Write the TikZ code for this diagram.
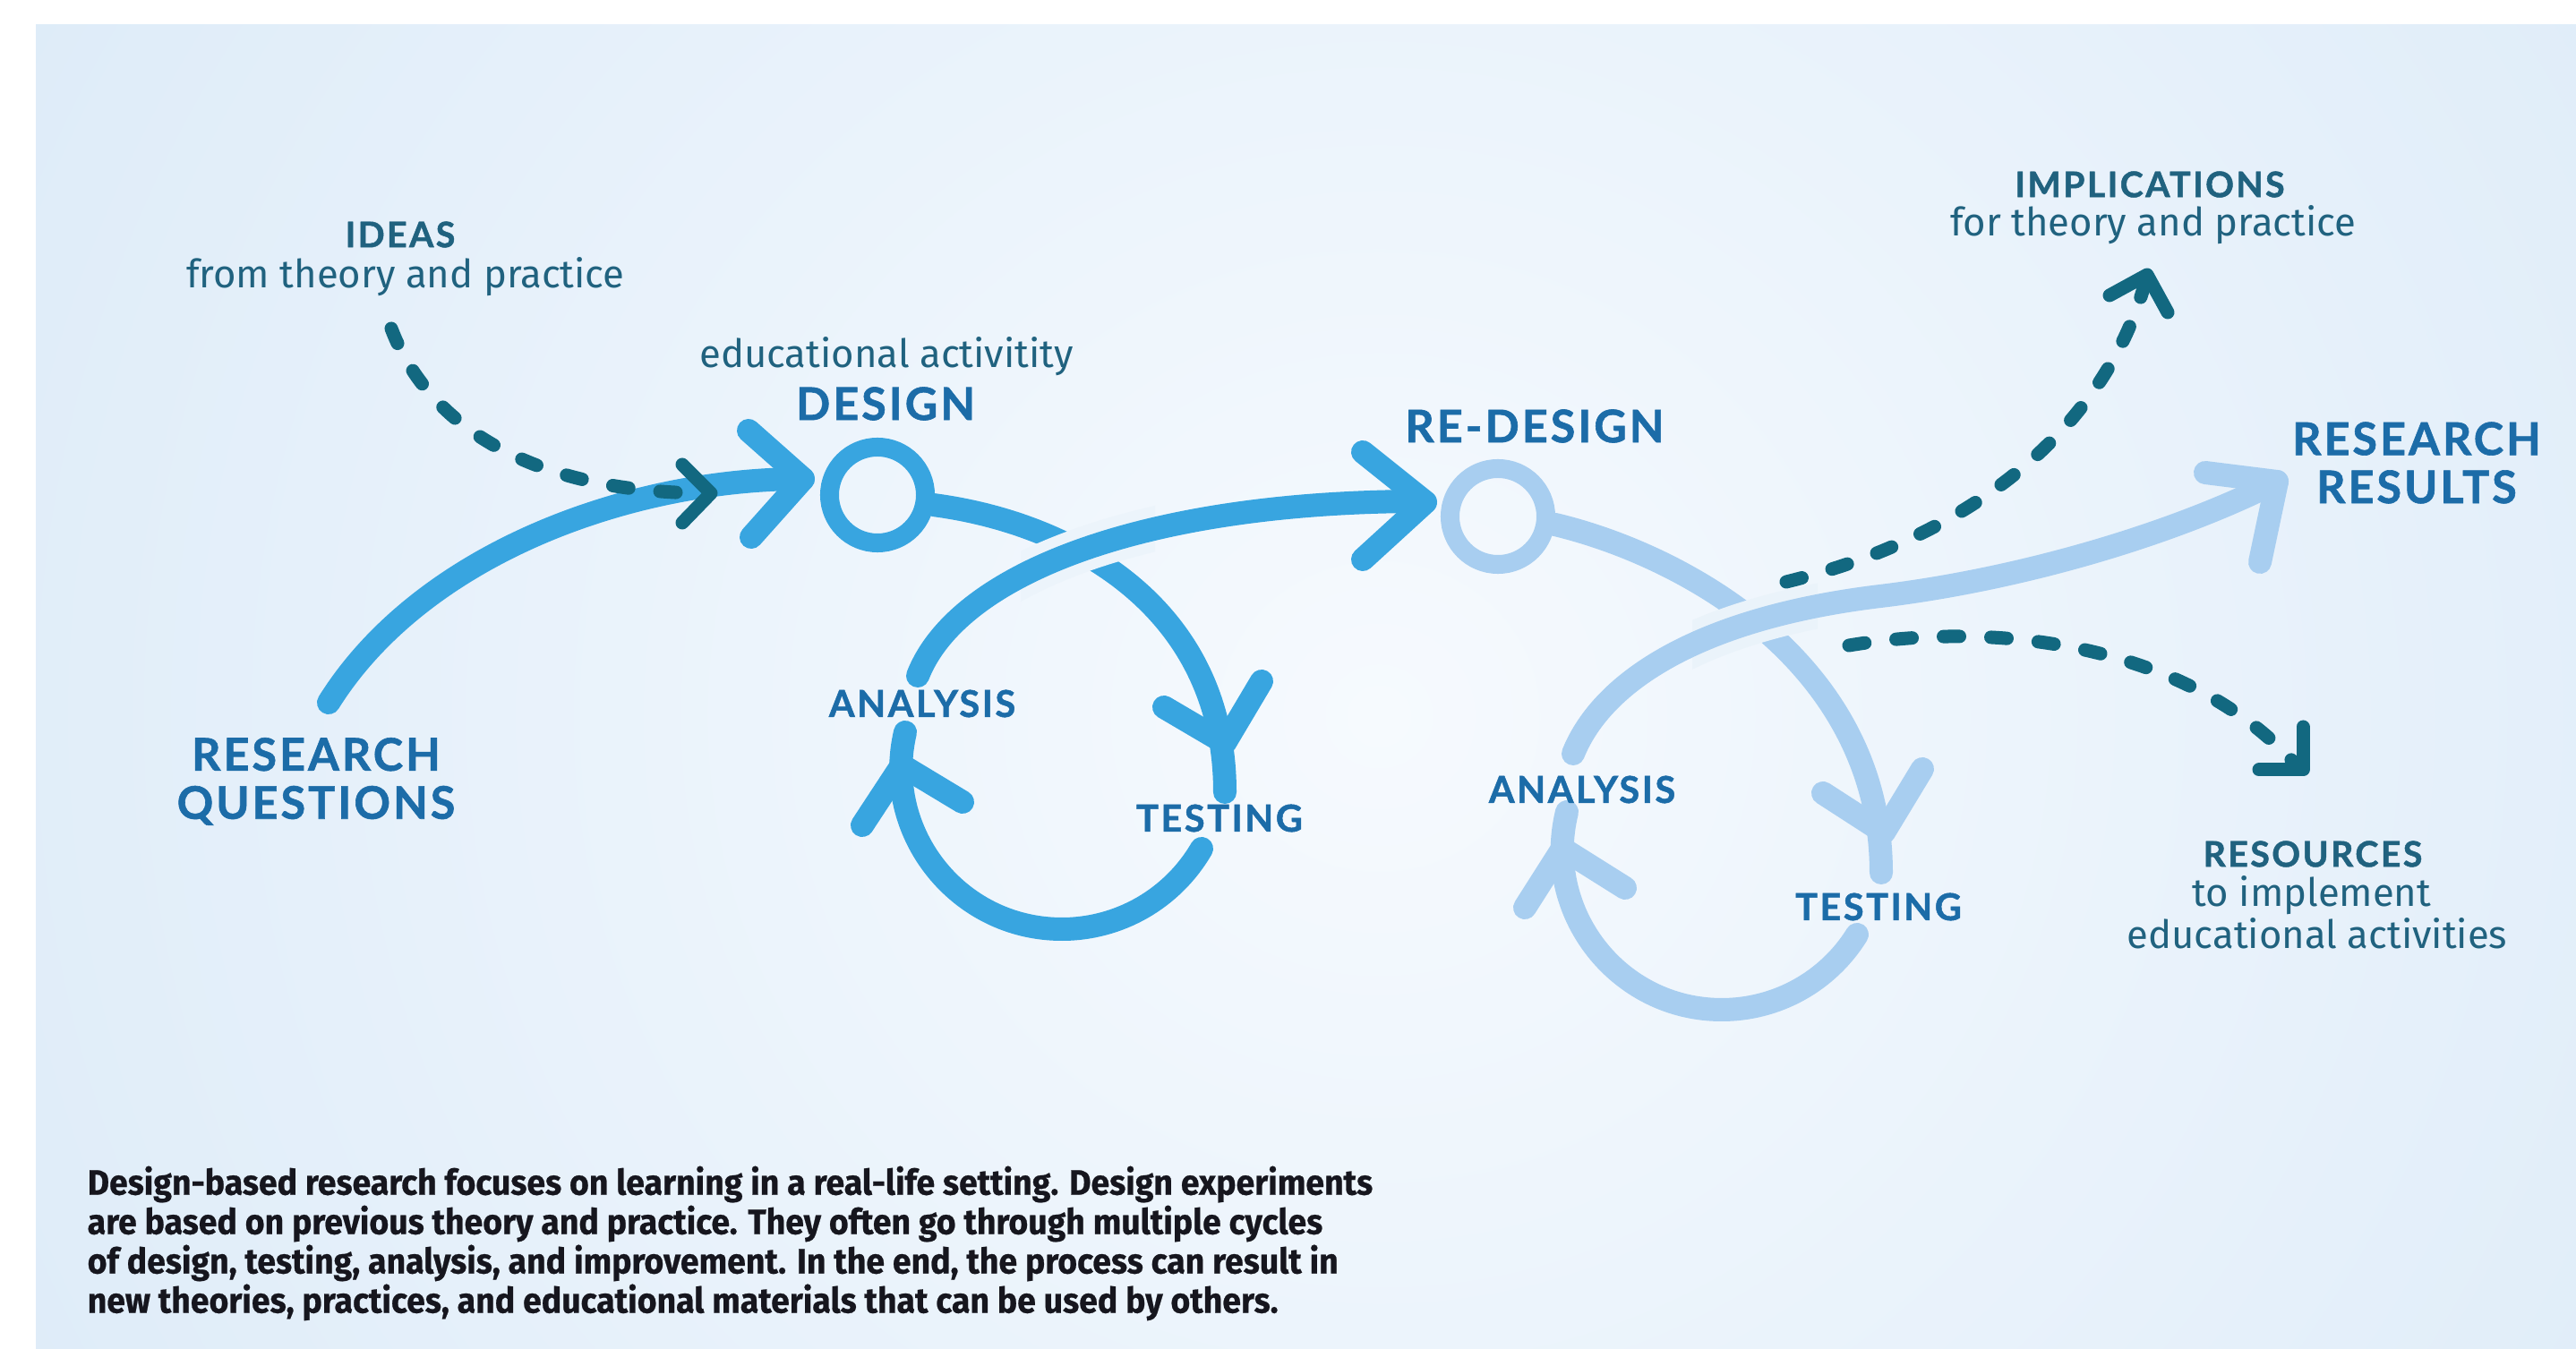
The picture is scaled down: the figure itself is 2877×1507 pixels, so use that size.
\documentclass[tikz,border=0pt]{standalone}
\usepackage{fontspec}
\setmainfont{Fira Sans}
\newfontfamily\capsfont[LetterSpace=6,BoldFeatures={FakeBold=1.2}]{Lato}
\newfontfamily\subfont{Fira Sans}
\newfontfamily\bodyfont[FakeStretch=0.95,BoldFeatures={FakeBold=0.6}]{Fira Sans}
\definecolor{mainblue}{HTML}{38A5E0}
\definecolor{lightblue}{HTML}{A8CEF0}
\definecolor{dashteal}{HTML}{126880}
\definecolor{headblue}{HTML}{1C6CA8}
\definecolor{tealtext}{HTML}{20627F}
\definecolor{bodyblack}{HTML}{16161E}
\definecolor{bgin}{HTML}{F6FAFE}
\definecolor{bgout}{HTML}{CCE1F4}
\definecolor{haloA}{HTML}{ECF4FB}
\definecolor{haloB}{HTML}{EAF3FA}
\pgfdeclareradialshading{bgglow}{\pgfpoint{0bp}{0bp}}{color(0bp)=(bgin); color(50bp)=(bgout)}
\begin{document}
\begin{tikzpicture}[x=0.01cm,y=-0.01cm,
  mainline/.style={draw=mainblue,line width=0.26cm,line cap=round,line join=round},
  lightline/.style={draw=lightblue,line width=0.26cm,line cap=round,line join=round},
  dashline/.style={draw=dashteal,line width=0.15cm,line cap=round,dash pattern=on 0.18cm off 0.35cm},
  dashhead/.style={draw=dashteal,line width=0.15cm,line cap=round,line join=round},
  ring/.style={circle,line width=0.21cm,minimum size=1.07cm,inner sep=0pt},
  halo/.style={line width=0.5cm,line cap=butt},
  bigcap/.style={text=headblue,font=\capsfont\bfseries\fontsize{14.3}{15.3}\selectfont,inner sep=0pt},
  smallcap/.style={text=headblue,font=\capsfont\bfseries\fontsize{11.8}{13}\selectfont,inner sep=0pt},
  tealcap/.style={text=tealtext,font=\capsfont\bfseries\fontsize{11.2}{13}\selectfont,inner sep=0pt},
  subtext/.style={text=tealtext,font=\subfont\fontsize{12.4}{15}\selectfont,inner sep=0pt},
  bodytext/.style={text=bodyblack,font=\bodyfont\bfseries\fontsize{11.2}{12.5}\selectfont,inner sep=0pt,align=left}
]
\useasboundingbox (0,0) rectangle (2877,1507);
\fill[white] (0,0) rectangle (2877,1507);
\begin{scope}
  \clip (38,28) rectangle (2877,1507);
  \shade[shading=bgglow] (40,-650) rectangle (3040,2250);
\end{scope}

% rings
\node[ring,draw=mainblue] (design) at (980,553) {};
\node[ring,draw=lightblue] (redesign) at (1673,577) {};

% key points
\coordinate (rqS) at (367,785);
\coordinate (rqE) at (897,535);
\coordinate (aEnd) at (1368,885);
\coordinate (bS) at (1342,948);
\coordinate (bBot) at (1186,1038);
\coordinate (bEnd) at (1011,818);
\coordinate (cS) at (1025,755);
\coordinate (cEnd) at (1590,560);
\coordinate (a2End) at (2101,975);
\coordinate (b2S) at (2074,1044);
\coordinate (b2Bot) at (1923,1128);
\coordinate (b2End) at (1750,907);
\coordinate (c2S) at (1757,842);
\coordinate (c2Mid) at (2100,666);
\coordinate (c2End) at (2543,538);
\coordinate (ideasS) at (437,367);
\coordinate (ideasE) at (788,551);
\coordinate (implS) at (1995,650);
\coordinate (implE) at (2396,315);
\coordinate (resS) at (2065,721);
\coordinate (resE) at (2560,850);

% second cycle (light)
\draw[lightline] (redesign.-8) .. controls (1880,620) and (2101,740) .. (a2End);
\draw[lightline] (b2S) .. controls (2041.5,1096.4) and (1984.4,1128) .. (b2Bot)
   .. controls (1807.2,1128) and (1722.3,1019.2) .. (b2End);
\begin{scope}
  \clip (1890,630) rectangle (2030,770);
  \draw[halo,draw=haloB] (c2S) .. controls (1790,760) and (1900,690) .. (c2Mid);
\end{scope}
\draw[lightline] (c2S) .. controls (1790,760) and (1900,690) .. (c2Mid)
   .. controls (2250,648) and (2420,600) .. (c2End);
\draw[lightline] (2036,886) -- (2104,930) -- (2147,859);
\draw[lightline] (1703,1014) -- (1745,948) -- (1815,992);
\draw[lightline] (2463,528) -- (c2End) -- (2524,628);

% first cycle
\draw[mainline] (rqS) .. controls (470,620) and (700,535) .. (rqE);
\draw[mainline] (design.-10) .. controls (1200,585) and (1368,680) .. (aEnd);
\draw[mainline] (bS) .. controls (1309.7,1003.7) and (1250.3,1038) .. (bBot)
   .. controls (1070.3,1038) and (984.6,930.2) .. (bEnd);
\begin{scope}
  \clip (1140,550) rectangle (1290,700);
  \draw[halo,draw=haloA] (cS) .. controls (1070,640) and (1280,560) .. (cEnd);
\end{scope}
\draw[mainline] (cS) .. controls (1070,640) and (1280,560) .. (cEnd);
\draw[mainline] (836,481) -- (rqE) -- (839,600);
\draw[mainline] (1300,790) -- (1368,830) -- (1409,761);
\draw[mainline] (963,922) -- (1007,855) -- (1075,896);
\draw[mainline] (1522,505) -- (1592,561) -- (1522,625);

% dashed arrows
\draw[dashline] (ideasS) .. controls (480,480) and (600,550) .. (ideasE);
\draw[dashhead] (762,519) -- (794,551) -- (762,584);
\draw[dashline] (implS) .. controls (2200,600) and (2350,480) .. (implE);
\draw[dashhead] (2356,330) -- (2398,307) -- (2421,349);
\draw[dashline] (resS) .. controls (2250,690) and (2450,730) .. (resE);
\draw[dashhead] (2572,812) -- (2572,860) -- (2523,860);

% labels
\node[tealcap] (ideas) at (447,262) {IDEAS};
\node[subtext] (ideasSub) at (453,309) {from theory and practice};
\node[subtext] (eduact) at (990,398) {educational activitity};
\node[bigcap] (designtxt) at (989,451) {DESIGN};
\node[bigcap] (redesigntxt) at (1714,476) {RE-DESIGN};
\node[bigcap,align=center] (rq) at (353,873) {RESEARCH\\QUESTIONS};
\node[bigcap,align=center] (rr) at (2699,517) {RESEARCH\\RESULTS};
\node[smallcap] (ana1) at (1030,786) {ANALYSIS};
\node[smallcap] (test1) at (1362,914) {TESTING};
\node[smallcap] (ana2) at (1767,882) {ANALYSIS};
\node[smallcap] (test2) at (2098,1013) {TESTING};
\node[tealcap] (impl) at (2401,206) {IMPLICATIONS};
\node[subtext] (implSub) at (2405,251) {for theory and practice};
\node[tealcap] (res) at (2583,954) {RESOURCES};
\node[subtext] (resSub1) at (2582,1000) {to implement};
\node[subtext] (resSub2) at (2588,1043) {educational activities};
\node[bodytext,anchor=north west] (body) at (97,1302)
  {Design-based research focuses on learning in a real-life setting. Design experiments\\
   are based on previous theory and practice. They often go through multiple cycles\\
   of design, testing, analysis, and improvement. In the end, the process can result in\\
   new theories, practices, and educational materials that can be used by others.};
\end{tikzpicture}
\end{document}
